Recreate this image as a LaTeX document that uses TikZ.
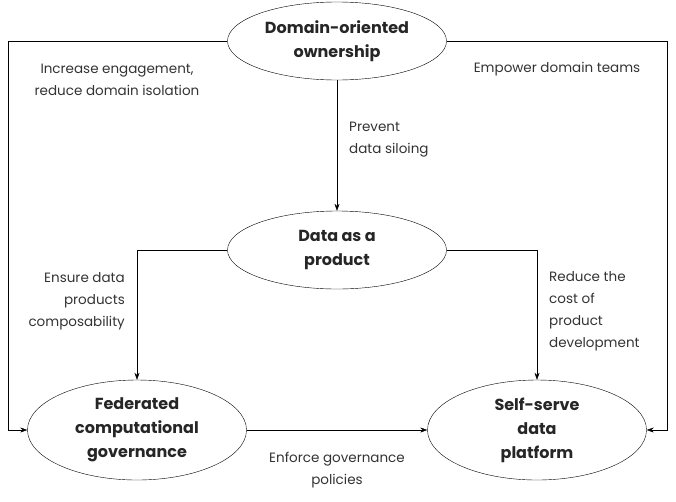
\documentclass[tikz,border=0pt]{standalone}
\usepackage{fontspec}
\setmainfont{Poppins}
\usetikzlibrary{shapes.geometric,arrows.meta}

\begin{document}
\begin{tikzpicture}[x=1pt,y=-1pt,>={Stealth[length=7pt,width=5pt]},
    pillar/.style={draw,ellipse,fill=white,minimum width=219pt,inner sep=0pt,
      align=center,font=\fontsize{16}{24}\selectfont\bfseries,text=black!85},
    note/.style={font=\fontsize{13.5}{22}\selectfont,inner sep=0pt,text=black!80}]
              \useasboundingbox (0,0) rectangle (676,501);
              \node[pillar,minimum height=78pt] (dom) at (337,41) {Domain-oriented\\ownership};
              \node[pillar,minimum height=78pt] (prod) at (337,250) {Data as a\\product};
              \node[pillar,minimum height=100pt] (fed) at (137,430) {Federated\\computational\\governance};
              \node[pillar,minimum height=100pt] (plat) at (537,430) {Self-serve\\data\\platform};
              \coordinate (lcorner) at (8,430);
              \coordinate (rcorner) at (667,430);
              \draw[->] (dom.west) -| (lcorner) -- (fed.west);
              \draw[->] (dom.east) -| (rcorner) -- (plat.east);
              \draw[->] (dom.south) -- (prod.north);
              \draw[->] (prod.west) -| (fed.north);
              \draw[->] (prod.east) -| (plat.north);
              \draw[->] (fed.east) -- (plat.west);
              \node[note,align=center] (engage) at (117,80) {Increase engagement,\\reduce domain isolation};
              \node[note] (empower) at (557,69) {Empower domain teams};
              \node[note,align=left,anchor=west] (silo) at (349,140) {Prevent\\data siloing};
              \node[note,align=right,anchor=east] (compose) at (125,301) {Ensure data\\products\\composability};
              \node[note,align=left,anchor=west] (cost) at (549,311) {Reduce the\\cost of\\product\\development};
              \node[note,align=center] (enforce) at (337,470) {Enforce governance\\policies};
            \end{tikzpicture}
\end{document}
